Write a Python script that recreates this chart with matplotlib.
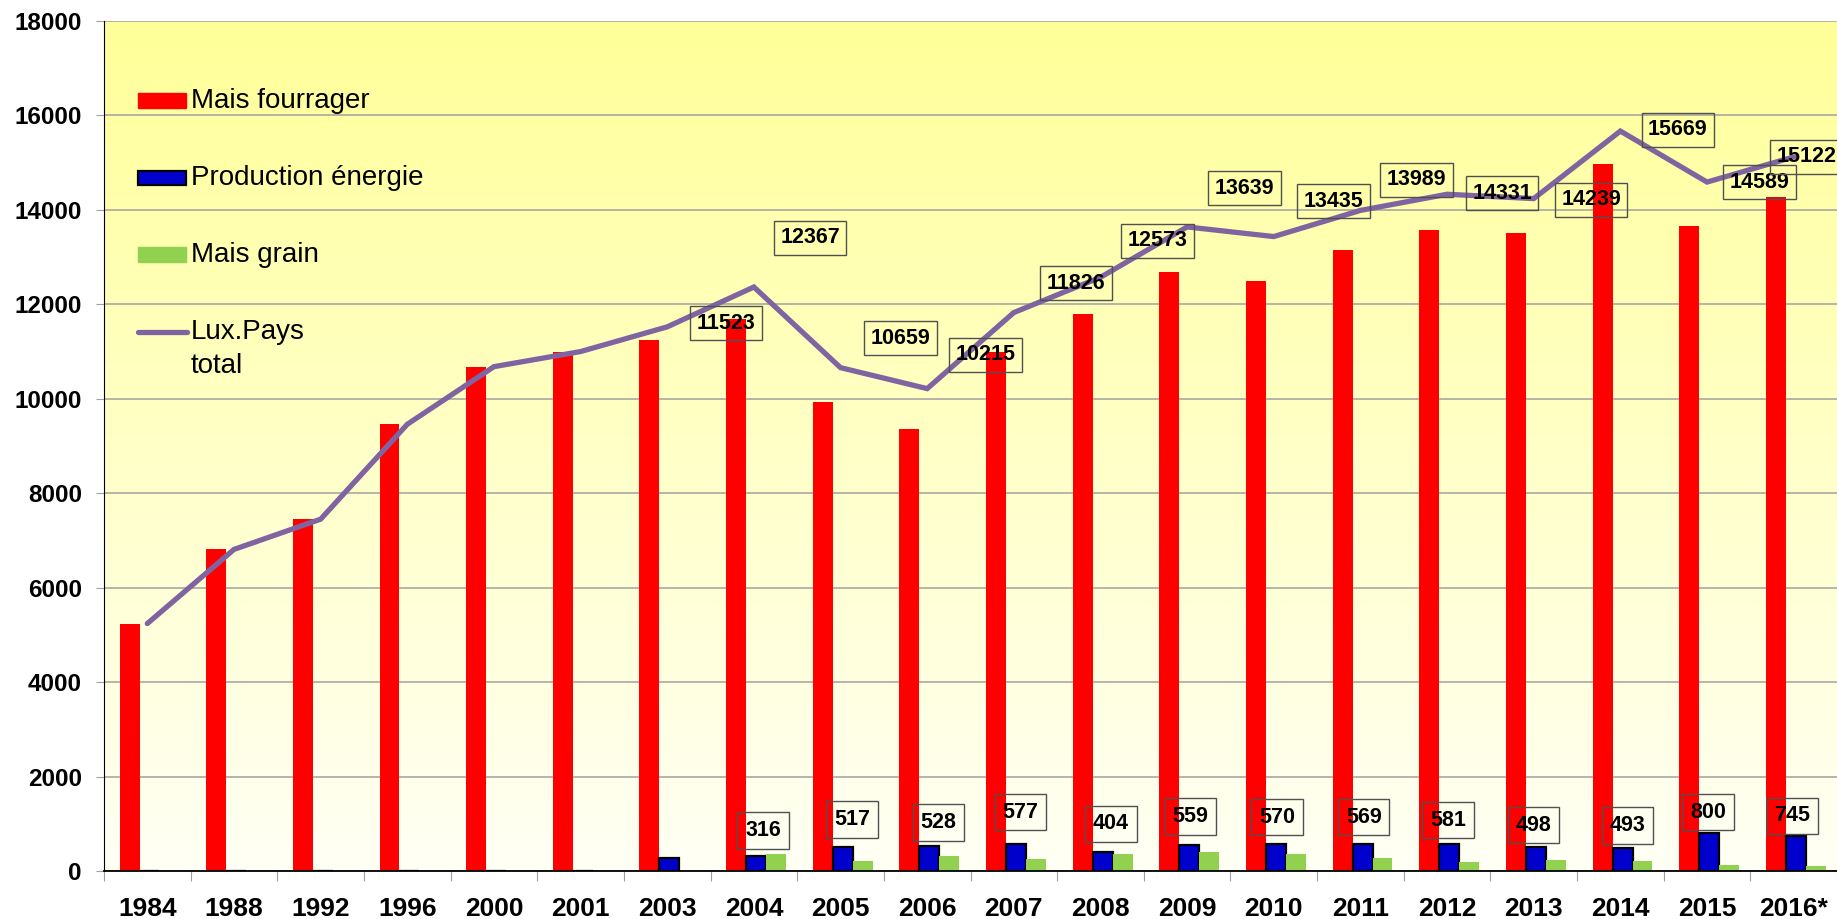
import numpy as np
import matplotlib
matplotlib.use("Agg")
from matplotlib import pyplot as plt
from matplotlib.patches import Rectangle
from matplotlib.lines import Line2D

plt.rcParams['font.family'] = ['Liberation Sans', 'DejaVu Sans']

years = ["1984", "1988", "1992", "1996", "2000", "2001", "2003", "2004", "2005", "2006",
         "2007", "2008", "2009", "2010", "2011", "2012", "2013", "2014", "2015", "2016*"]
fourrager = [5240, 6810, 7450, 9460, 10680, 11000, 11245, 11692, 9929, 9370,
             10993, 11804, 12680, 12502, 13142, 13568, 13506, 14972, 13662, 14264]
energie = [0, 0, 0, 0, 0, 0, 278, 316, 517, 528, 577, 404, 559, 570, 569, 581, 498, 493, 800, 745]
grain = [0, 0, 0, 0, 0, 0, 0, 359, 213, 317, 256, 365, 400, 363, 278, 182, 235, 204, 127, 113]
total = [5240, 6810, 7450, 9460, 10680, 11000, 11523, 12367, 10659, 10215,
         11826, 12573, 13639, 13435, 13989, 14331, 14239, 15669, 14589, 15122]

# label offsets (in px of the small view), from first labelled year on
total_off = [(50, 3), (48, 42), (51, 25), (50, 29), (53, 25), (49, 31), (49, 33),
             (51, 30), (48, 26), (47, 1), (49, -1), (49, 1), (45, 0), (11, 0)]
energie_off = [(6, 22), (8, 23), (8, 20), (4, 27), (7, 24), (1, 24), (1, 23),
               (1, 23), (-1, 20), (-2, 19), (4, 19), (-1, 18), (-3, 17)]
k = 0.8435  # small px -> points

RED = "#FF0000"
BLUE = "#0000CC"
GREEN = "#92D050"
PURPLE = "#8064A2"

fig = plt.figure(figsize=(18.37, 9.19), dpi=100)
ax = fig.add_axes([104/1837, 1-871/919, 1-104/1837, (871-21)/919])

# yellow gradient background
grad = np.linspace(0, 1, 256).reshape(-1, 1)
top = np.array([255, 255, 153]) / 255.
bot = np.array([255, 255, 245]) / 255.
img = bot[None, None, :] * (1 - grad[:, :, None]) + top[None, None, :] * grad[:, :, None]
ax.imshow(img, extent=[0, 1, 0, 1], transform=ax.transAxes, aspect='auto', origin='lower', zorder=0)

x = np.arange(len(years))
w = 0.23
ax.bar(x - 0.205, fourrager, w, color=RED, zorder=3)
ax.bar(x + 0.025, energie, w, color=BLUE, edgecolor="black", linewidth=1.6, zorder=3)
ax.bar(x + 0.255, grain, w, color=GREEN, zorder=3)
ax.plot(x, total, color=PURPLE, lw=3.8, solid_capstyle='round', solid_joinstyle='miter', zorder=4)

box = dict(boxstyle="square,pad=0.3", fc="none", ec="#505050", lw=1)
for j, i in enumerate(range(6, len(years))):
    dx, dy = total_off[j]
    ax.annotate(str(total[i]), (x[i], total[i]), xytext=(dx*k, dy*k), textcoords="offset points",
                ha="center", va="center", fontsize=15.5, fontweight="bold", bbox=box, zorder=6,
                annotation_clip=False)
box2 = dict(boxstyle="square,pad=0.36", fc="none", ec="#505050", lw=1)
for j, i in enumerate(range(7, len(years))):
    dx, dy = energie_off[j]
    ax.annotate(str(energie[i]), (x[i] + 0.025, energie[i]), xytext=(dx*k, dy*k), textcoords="offset points",
                ha="center", va="center", fontsize=15.5, fontweight="bold", bbox=box2, zorder=6)

ax.set_xlim(-0.5, len(years) - 0.5)
ax.set_ylim(0, 18000)
ax.set_yticks(np.arange(0, 18001, 2000))
ax.yaxis.grid(True, color="#A0A0A0", lw=1.1, zorder=1)
ax.set_axisbelow(True)
ax.tick_params(axis="y", length=6, color="#A0A0A0", pad=10, labelsize=17.5)
for t in ax.get_yticklabels():
    t.set_fontweight("bold")

ax.set_xticks(np.arange(-0.5, len(years), 1.0))
ax.set_xticklabels([])
ax.tick_params(axis="x", which="major", length=7, color="#A0A0A0")
ax.set_xticks(x, minor=True)
ax.set_xticklabels(years, minor=True, fontsize=19, fontweight="bold")
ax.tick_params(axis="x", which="minor", length=0, pad=19)

for s in ["top", "right"]:
    ax.spines[s].set_visible(False)
ax.spines["left"].set_color("black")
ax.spines["bottom"].set_color("black")
ax.spines["bottom"].set_linewidth(1.3)
ax.spines["bottom"].set_zorder(5)

# legend drawn by hand
W, H = 1837., 919.
def fx(px): return px / W
def fy(py): return 1 - py / H
fig.patches.append(Rectangle((fx(138), fy(108)), fx(186) - fx(138), 15/H, color=RED, transform=fig.transFigure, figure=fig))
fig.patches.append(Rectangle((fx(138), fy(185)), fx(186) - fx(138), 14/H, fc=BLUE, ec="black", lw=1.6, transform=fig.transFigure, figure=fig))
fig.patches.append(Rectangle((fx(138), fy(262)), fx(186) - fx(138), 15/H, color=GREEN, transform=fig.transFigure, figure=fig))
fig.lines.append(Line2D([fx(138), fx(187)], [fy(332), fy(332)], color=PURPLE, lw=3.8, solid_capstyle='round', transform=fig.transFigure, figure=fig))
for yy, txt in [(101, "Mais fourrager"), (178, "Production énergie"), (255, "Mais grain"), (332, "Lux.Pays")]:
    fig.text(fx(191), fy(yy), txt, fontsize=20, va="center", ha="left")
fig.text(fx(191), fy(366), "total", fontsize=20, va="center", ha="left")

fig.savefig("out.png", dpi=100)
